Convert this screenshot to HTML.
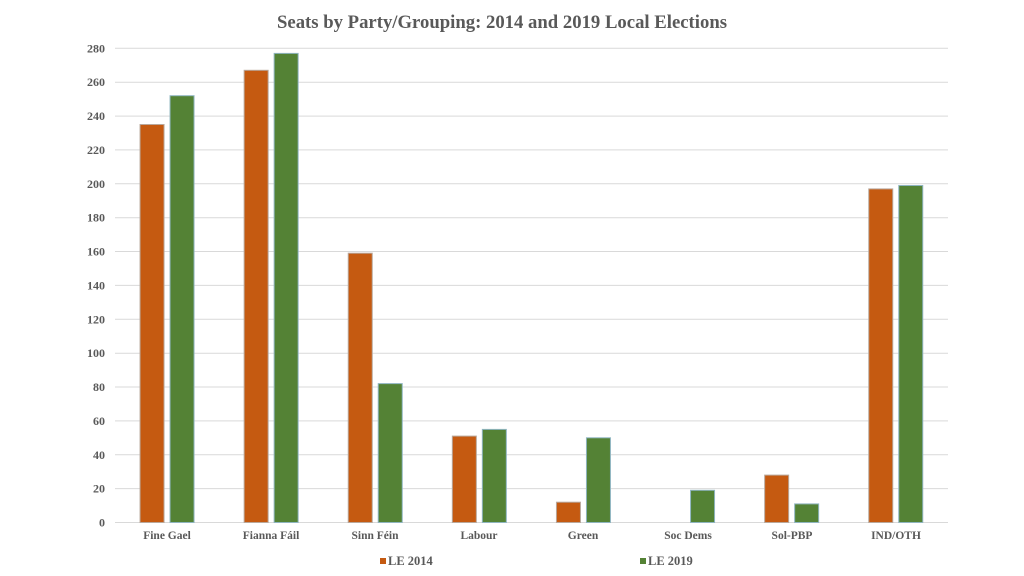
<!DOCTYPE html>
<html>
<head>
<meta charset="utf-8">
<style>
  html,body{margin:0;padding:0;background:#fff;}
  svg{display:block;}
  text{font-family:"Liberation Serif","Times New Roman",serif;font-weight:bold;fill:#595959;}
</style>
</head>
<body>
<svg width="1024" height="576" viewBox="0 0 1024 576" xmlns="http://www.w3.org/2000/svg">
  <rect x="0" y="0" width="1024" height="576" fill="#ffffff"/>
  <text x="502" y="28" font-size="19" text-anchor="middle" textLength="450" lengthAdjust="spacingAndGlyphs">Seats by Party/Grouping: 2014 and 2019 Local Elections</text>

  <!-- gridlines -->
  <g stroke="#d9d9d9" stroke-width="1">
    <line x1="115" x2="948" y1="522.5" y2="522.5"/>
    <line x1="115" x2="948" y1="488.6" y2="488.6"/>
    <line x1="115" x2="948" y1="454.8" y2="454.8"/>
    <line x1="115" x2="948" y1="420.9" y2="420.9"/>
    <line x1="115" x2="948" y1="387.0" y2="387.0"/>
    <line x1="115" x2="948" y1="353.2" y2="353.2"/>
    <line x1="115" x2="948" y1="319.3" y2="319.3"/>
    <line x1="115" x2="948" y1="285.4" y2="285.4"/>
    <line x1="115" x2="948" y1="251.5" y2="251.5"/>
    <line x1="115" x2="948" y1="217.7" y2="217.7"/>
    <line x1="115" x2="948" y1="183.8" y2="183.8"/>
    <line x1="115" x2="948" y1="149.9" y2="149.9"/>
    <line x1="115" x2="948" y1="116.1" y2="116.1"/>
    <line x1="115" x2="948" y1="82.2" y2="82.2"/>
    <line x1="115" x2="948" y1="48.3" y2="48.3"/>
  </g>

  <!-- y tick labels -->
  <g font-size="12" text-anchor="end">
    <text x="105" y="526.5">0</text>
    <text x="105" y="492.6">20</text>
    <text x="105" y="458.8">40</text>
    <text x="105" y="424.9">60</text>
    <text x="105" y="391.0">80</text>
    <text x="105" y="357.2">100</text>
    <text x="105" y="323.3">120</text>
    <text x="105" y="289.4">140</text>
    <text x="105" y="255.5">160</text>
    <text x="105" y="221.7">180</text>
    <text x="105" y="187.8">200</text>
    <text x="105" y="153.9">220</text>
    <text x="105" y="120.1">240</text>
    <text x="105" y="86.2">260</text>
    <text x="105" y="52.3">280</text>
  </g>

  <!-- bars: y = 522.5 - v*1.6936 ; centers c = 115 + 104.1*(i+0.5) -->
  <g stroke-width="1">
    <!-- Fine Gael c=167.05 -->
    <rect x="140.05" y="124.5" width="24" height="398.0" fill="#C55A11" stroke="#b9a89c"/>
    <rect x="170.05" y="95.7" width="24" height="426.8" fill="#548235" stroke="#8fb5c0"/>
    <!-- Fianna Fail c=271.15 -->
    <rect x="244.15" y="70.3" width="24" height="452.2" fill="#C55A11" stroke="#b9a89c"/>
    <rect x="274.15" y="53.4" width="24" height="469.1" fill="#548235" stroke="#8fb5c0"/>
    <!-- Sinn Fein c=375.25 -->
    <rect x="348.25" y="253.2" width="24" height="269.3" fill="#C55A11" stroke="#b9a89c"/>
    <rect x="378.25" y="383.6" width="24" height="138.9" fill="#548235" stroke="#8fb5c0"/>
    <!-- Labour c=479.35 -->
    <rect x="452.35" y="436.1" width="24" height="86.4" fill="#C55A11" stroke="#b9a89c"/>
    <rect x="482.35" y="429.4" width="24" height="93.1" fill="#548235" stroke="#8fb5c0"/>
    <!-- Green c=583.45 -->
    <rect x="556.45" y="502.2" width="24" height="20.3" fill="#C55A11" stroke="#b9a89c"/>
    <rect x="586.45" y="437.8" width="24" height="84.7" fill="#548235" stroke="#8fb5c0"/>
    <!-- Soc Dems c=687.55 -->
    <rect x="690.55" y="490.3" width="24" height="32.2" fill="#548235" stroke="#8fb5c0"/>
    <!-- Sol-PBP c=791.65 -->
    <rect x="764.65" y="475.1" width="24" height="47.4" fill="#C55A11" stroke="#b9a89c"/>
    <rect x="794.65" y="503.9" width="24" height="18.6" fill="#548235" stroke="#8fb5c0"/>
    <!-- IND/OTH c=895.75 -->
    <rect x="868.75" y="188.9" width="24" height="333.6" fill="#C55A11" stroke="#b9a89c"/>
    <rect x="898.75" y="185.5" width="24" height="337.0" fill="#548235" stroke="#8fb5c0"/>
  </g>

  <!-- category labels -->
  <g font-size="11.5" text-anchor="middle">
    <text x="167" y="539">Fine Gael</text>
    <text x="271" y="539">Fianna Fáil</text>
    <text x="375" y="539">Sinn Féin</text>
    <text x="479" y="539">Labour</text>
    <text x="583" y="539">Green</text>
    <text x="688" y="539">Soc Dems</text>
    <text x="792" y="539">Sol-PBP</text>
    <text x="896" y="539">IND/OTH</text>
  </g>

  <!-- legend -->
  <rect x="380" y="558" width="6" height="6" fill="#C55A11"/>
  <text x="388" y="565" font-size="12.5">LE 2014</text>
  <rect x="640" y="558" width="6" height="6" fill="#548235"/>
  <text x="648" y="565" font-size="12.5">LE 2019</text>
</svg>
</body>
</html>
